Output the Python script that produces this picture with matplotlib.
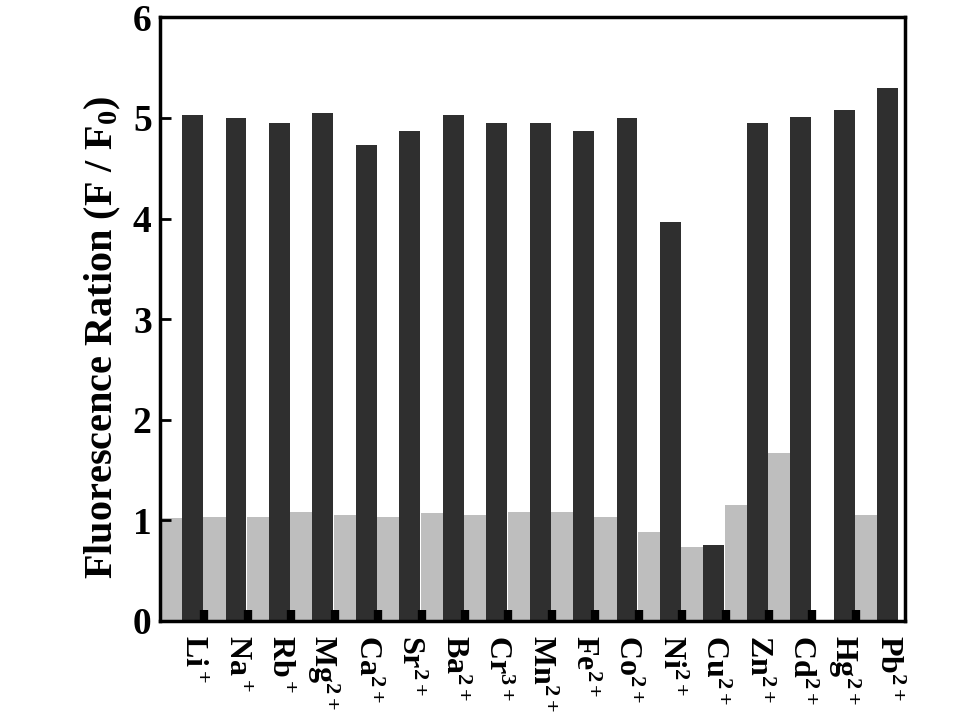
import numpy as np
import matplotlib

matplotlib.use("Agg")
import matplotlib.pyplot as plt

plt.rcParams["font.family"] = ["Liberation Serif", "DejaVu Serif"]
plt.rcParams["font.weight"] = "bold"
plt.rcParams["mathtext.fontset"] = "custom"
plt.rcParams["mathtext.rm"] = "Liberation Serif:bold"
plt.rcParams["mathtext.it"] = "Liberation Serif:bold"
plt.rcParams["mathtext.bf"] = "Liberation Serif:bold"
plt.rcParams["mathtext.default"] = "rm"

ions = ["Li$^+$", "Na$^+$", "Rb$^+$", "Mg$^{2+}$", "Ca$^{2+}$", "Sr$^{2+}$",
        "Ba$^{2+}$", "Cr$^{3+}$", "Mn$^{2+}$", "Fe$^{2+}$", "Co$^{2+}$",
        "Ni$^{2+}$", "Cu$^{2+}$", "Zn$^{2+}$", "Cd$^{2+}$", "Hg$^{2+}$", "Pb$^{2+}$"]
# light bars: ion alone; dark bars: ion added to the probe
ion_only = [1.02, 1.03, 1.03, 1.08, 1.05, 1.03, 1.07, 1.05, 1.08, 1.08, 1.03,
            0.88, 0.74, 1.15, 1.67, 0.0, 1.05]
with_probe = [5.03, 5.00, 4.95, 5.05, 4.73, 4.87, 5.03, 4.95, 4.95, 4.87, 5.00,
              3.97, 0.755, 4.95, 5.01, 5.08, 5.30]

x = np.arange(len(ions))

fig = plt.figure(figsize=(9.6, 7.2), dpi=100)
ax = fig.add_axes([0.1667, 0.1375, 0.7760, 0.8385])

ax.bar(x - 0.5, ion_only, width=0.51, align="edge", color="#bebebe", linewidth=0)
ax.bar(x + 0.01, with_probe, width=0.48, align="edge", color="#2f2f2f", linewidth=0)

ax.set_xlim(-0.5, 16.65)
ax.set_ylim(0, 6)

ax.set_xticks(x + 0.25)
ax.set_xticklabels(ions, rotation=270, fontsize=23, fontweight="bold", va="top", ha="center")
ax.tick_params(axis="x", which="major", length=0, pad=10)
# little notches at the foot of each dark bar
ax.set_xticks(x[:-1] + 0.52, minor=True)
ax.tick_params(axis="x", which="minor", direction="in", length=8, width=6, color="black")

ax.set_yticks(range(7))
ax.tick_params(axis="y", direction="in", length=8, width=2, labelsize=27, pad=6)
for lbl in ax.get_yticklabels():
    lbl.set_fontweight("bold")

ax.set_ylabel("Fluorescence Ration (F / F$_0$)", fontsize=29, fontweight="bold")
ax.yaxis.set_label_coords(-0.05, 0.47)

for sp in ax.spines.values():
    sp.set_linewidth(2.5)

fig.savefig("out.png", dpi=100)
